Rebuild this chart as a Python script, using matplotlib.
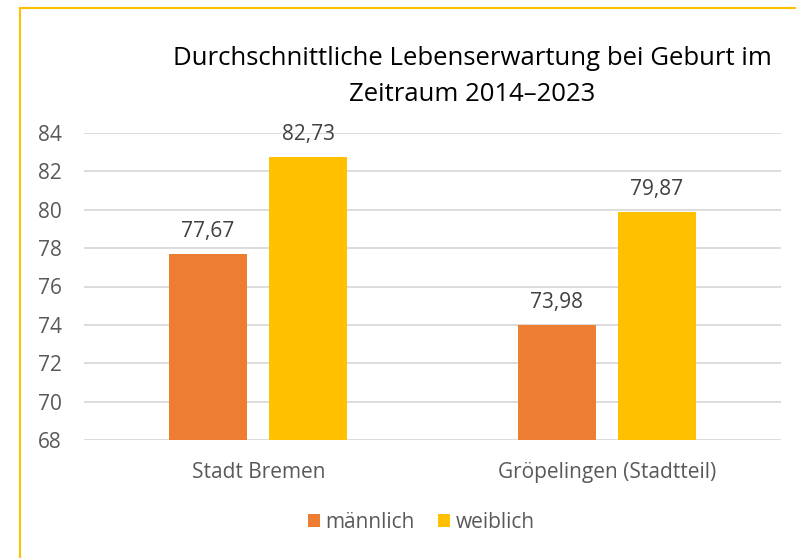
import matplotlib.pyplot as plt
import numpy as np
from matplotlib.patches import Rectangle

categories = ["Stadt Bremen", "Gröpelingen (Stadtteil)"]
series_names = ["männlich", "weiblich"]
maennlich = [77.67, 73.98]
weiblich = [82.73, 79.87]
yticks = [68, 70, 72, 74, 76, 78, 80, 82, 84]
title = "Durchschnittliche Lebenserwartung bei Geburt im\nZeitraum 2014–2023"

COLORS = ["#ED7D31", "#FFC000"]
GREY = "#595959"

plt.rcParams["font.family"] = ["Open Sans", "DejaVu Sans"]

W, H = 796, 558
fig = plt.figure(figsize=(W / 100, H / 100), dpi=100)
ax = fig.add_axes([84 / W, 1 - 440 / H, (781 - 84) / W, (440 - 133) / H])

x = np.arange(len(categories))
width = 0.224
offset = 0.144
for vals, off, color, name in [(maennlich, -offset, COLORS[0], series_names[0]),
                               (weiblich, offset, COLORS[1], series_names[1])]:
    bars = ax.bar(x + off, np.array(vals) - 68, width, bottom=68, color=color,
                  label=name, zorder=3)
    for b, v in zip(bars, vals):
        ax.annotate(f"{v:.2f}".replace(".", ","), (b.get_x() + b.get_width() / 2, v),
                    xytext=(0, 9), textcoords="offset points", ha="center",
                    va="bottom", fontsize=15, color="#404040")

ax.set_xlim(-0.5, 1.5)
ax.set_ylim(68, 84)
ax.set_yticks(yticks)
ax.set_yticklabels([str(t) for t in yticks])
ax.set_xticks(x, categories)
ax.tick_params(axis="both", length=0, colors=GREY, labelsize=15)
ax.tick_params(axis="x", pad=16)
ax.tick_params(axis="y", pad=16)
ax.grid(axis="y", color="#D9D9D9", lw=1.3, zorder=0)
for s in ax.spines.values():
    s.set_visible(False)

fig.text(472 / W, 1 - 76.5 / H, title, ha="center", va="center", fontsize=18.5,
         color="#000000", linespacing=1.55)

fig.legend(loc="center", bbox_to_anchor=(421 / W, 1 - 522 / H), ncol=2, frameon=False,
           fontsize=15, handlelength=0.6, handleheight=0.6, handletextpad=0.25,
           columnspacing=1.1, labelcolor=GREY)

fig.patches.append(Rectangle((20 / W, -0.1), 1.2, 1 - 8 / H + 0.1,
                             transform=fig.transFigure, fill=False,
                             edgecolor="#FFC000", lw=1.5))

fig.savefig("out.png", dpi=100)
